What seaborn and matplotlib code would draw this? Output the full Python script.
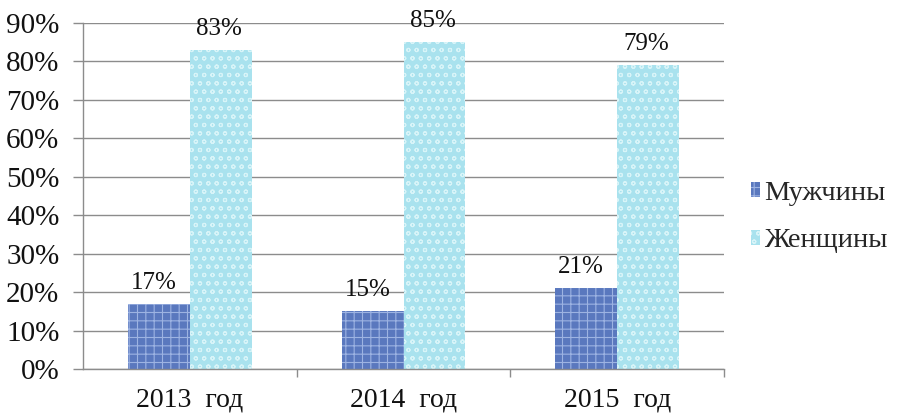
import matplotlib
matplotlib.use("Agg")
import matplotlib.pyplot as plt
import seaborn as sns
import pandas as pd
from matplotlib.patches import Patch

years = ["2013 год", "2014 год", "2015 год"]
series = ["Мужчины", "Женщины"]
men = [17, 15, 21]
women = [83, 85, 79]
yticks = [0, 10, 20, 30, 40, 50, 60, 70, 80, 90]

df = pd.DataFrame({
    "year": years * 2,
    "series": [series[0]] * 3 + [series[1]] * 3,
    "value": men + women,
})

sns.set_theme(style="white")
plt.rcParams["font.family"] = ["Liberation Serif", "DejaVu Serif"]
plt.rcParams["hatch.linewidth"] = 0.8

colors = {"Мужчины": "#5A78BE", "Женщины": "#A9E2EE"}
hatch_colors = {"Мужчины": "#9DB3E2", "Женщины": "#D8F4F8"}
hatches = {"Мужчины": "++", "Женщины": "oo"}

fig = plt.figure(figsize=(9.01, 4.15), dpi=100)
ax = fig.add_axes([83 / 901, 1 - 369 / 415, (724 - 83) / 901, (369 - 23) / 415])

sns.barplot(data=df, x="year", y="value", hue="series", hue_order=series,
            palette=colors, width=0.58, ax=ax, legend=False, errorbar=None,
            saturation=1)

for i, cont in enumerate(ax.containers):
    s = series[i]
    for bar in cont:
        bar.set_hatch(hatches[s])
        bar.set_edgecolor(hatch_colors[s])
        bar.set_linewidth(0)

# Data labels
for i, cont in enumerate(ax.containers):
    vals = men if i == 0 else women
    for bar, v in zip(cont, vals):
        if i == 0:
            x = bar.get_x() + bar.get_width() * 0.42
        else:
            x = bar.get_x() + bar.get_width() * 0.47
        ax.text(x, v + 2.6, f"{v}%", ha="center", va="bottom",
                fontsize=18, color="#111111")

ax.set_ylim(0, 90)
ax.set_xlim(-0.5, 2.5)
ax.set_yticks(yticks)
ax.set_yticklabels([f"{t}%" for t in yticks], fontsize=21, color="#111111")
ax.yaxis.grid(True, color="#8C8C8C", linewidth=1.0)
ax.set_axisbelow(True)
ax.set_xlabel("")
ax.set_ylabel("")
ax.set_xticks([0, 1, 2])
ax.set_xticklabels([y.replace(" ", "  ") for y in years], fontsize=20, color="#111111")
ax.tick_params(axis="x", length=0, pad=13)
ax.tick_params(axis="y", length=7, color="#8C8C8C", width=1, left=True, pad=10)
ax.set_xticks([0.5, 1.5, 2.5], minor=True)
ax.tick_params(axis="x", which="minor", length=6, color="#8C8C8C", width=1, bottom=True)

for sp in ["top", "right"]:
    ax.spines[sp].set_visible(False)
for sp in ["left", "bottom"]:
    ax.spines[sp].set_color("#8C8C8C")
    ax.spines[sp].set_linewidth(1)

handles = [Patch(facecolor=colors[s], edgecolor=hatch_colors[s], hatch=hatches[s],
                 linewidth=0) for s in series]
fig.legend(handles, series, loc="center left", bbox_to_anchor=(751 / 901, 1 - 217 / 415),
           frameon=False, fontsize=20.5, handlelength=0.32, handleheight=0.42,
           handletextpad=0.15, labelspacing=0.8, borderpad=0, borderaxespad=0)

fig.savefig("out.png", dpi=100)
